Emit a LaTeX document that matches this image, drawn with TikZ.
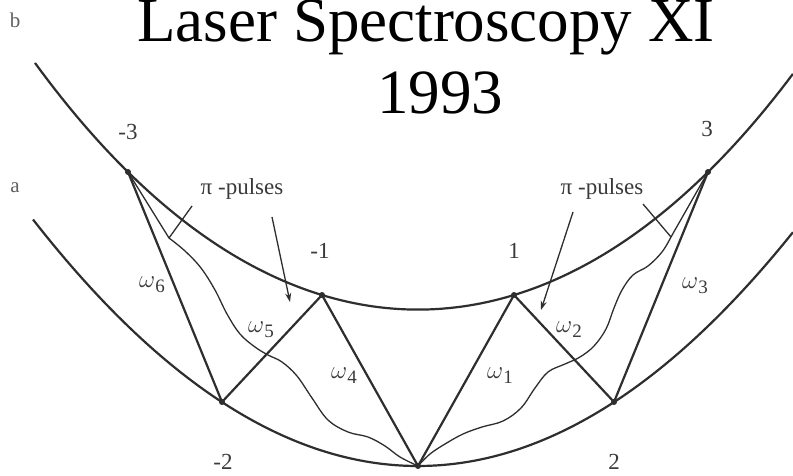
\documentclass[tikz,border=0pt]{standalone}
\usepackage{fontspec}
\setmainfont{Liberation Serif}
\usetikzlibrary{arrows.meta}
\definecolor{ink}{HTML}{2e2e2e}
\definecolor{lbl}{HTML}{3a3a3a}
\definecolor{side}{HTML}{606060}
\newcommand{\omlab}[1]{$\omega$\raisebox{-5pt}{\fontsize{19}{19}\selectfont #1}}
\begin{document}
\begin{tikzpicture}[x=1pt,y=-1pt,
  curve/.style={draw=ink, line width=2.2pt},
  link/.style={draw=ink, line width=2.2pt, line join=round},
  wave/.style={draw=ink, line width=1.3pt},
  ptr/.style={draw=ink, line width=1.3pt},
  arr/.style={ptr, -{Stealth[length=9pt,width=6pt]}},
  dot/.style={circle, fill=ink, inner sep=0pt, minimum size=6pt},
  num/.style={font=\fontsize{23}{23}\selectfont, text=lbl, inner sep=1pt},
  om/.style={font=\fontsize{25}{25}\selectfont, text=lbl, inner sep=1pt},
  sidelbl/.style={font=\fontsize{21}{21}\selectfont, text=side},
  title/.style={font=\fontsize{63}{74}\selectfont, anchor=base, text=black, inner sep=0pt}]
\useasboundingbox (0,0) rectangle (793,476);
\fill[white] (0,0) rectangle (793,476);

% title
\node[title] (t1) at (426,42) {Laser Spectroscopy XI};
\node[title] (t2) at (440,114) {1993};

% side labels
\node[sidelbl] (lb) at (15,20) {b};
\node[sidelbl] (la) at (15,188) {a};

% level curves
\draw[curve] plot[domain=-3.83:3.75, samples=120, variable=\t]
  ({418+100*\t},{309.6-15.744*\t*\t-0.073*\t*\t*\t*\t});
\draw[curve] plot[domain=-3.85:3.75, samples=120, variable=\t]
  ({418+100*\t},{466-16.63*\t*\t});

% vertices
\node[dot] (Pm3) at (128,172) {};
\node[dot] (Pm1) at (322,295) {};
\node[dot] (Pp1) at (514,295) {};
\node[dot] (Pp3) at (708,172) {};
\node[dot] (Pm2) at (222,402) {};
\node[dot] (P0)  at (418,466) {};
\node[dot] (Pp2) at (614,402) {};

% transitions
\draw[link] (Pm3.center) -- (Pm2.center) -- (Pm1.center) -- (P0.center)
  -- (Pp1.center) -- (Pp2.center) -- (Pp3.center);

% wavy pulses
\coordinate (wl) at (169,238);
\coordinate (wr) at (671,237);
\draw[wave] (Pm3.center) -- (wl) plot[smooth, tension=0.6] coordinates {(wl) (185,251) (201,268) (215,290) (227,314) (240,334) (255,347) (268,355) (282,362) (297,376) (312,398) (328,420) (348,432) (368,437) (385,446) (400,457) (P0.center)};
\draw[wave] (Pp3.center) -- (wr) plot[smooth, tension=0.6] coordinates {(wr) (662,252) (648,266) (633,275) (622,290) (614,308) (606,329) (594,346) (580,357) (565,364) (548,372) (535,388) (521,408) (503,421) (482,427) (463,434) (445,444) (430,454) (P0.center)};

% pointers
\coordinate (tl) at (192,206);
\coordinate (tr) at (643,204);
\draw[ptr] (tl) -- (wl);
\draw[ptr] (tr) -- (wr);
\coordinate (al) at (272,217);
\coordinate (alt) at (290,302);
\coordinate (ar) at (573,212);
\coordinate (art) at (541,310);
\draw[arr] (al) -- (alt);
\draw[arr] (ar) -- (art);

% level numbers
\node[num] (nm3) at (128,132) {-3};
\node[num] (np3) at (707,129) {3};
\node[num] (nm1) at (320,251) {-1};
\node[num] (np1) at (514,251) {1};
\node[num] (nm2) at (223,462) {-2};
\node[num] (np2) at (614,462) {2};

% pi-pulse labels
\node[num] (pl) at (242,189) {π -pulses};
\node[num] (pr) at (602,189) {π -pulses};

% frequencies
\node[om] (w6) at (152,285) {\omlab{6}};
\node[om] (w5) at (261,330) {\omlab{5}};
\node[om] (w4) at (344,376) {\omlab{4}};
\node[om] (w1) at (500,376) {\omlab{1}};
\node[om] (w2) at (569,330) {\omlab{2}};
\node[om] (w3) at (695,286) {\omlab{3}};
\end{tikzpicture}
\end{document}
